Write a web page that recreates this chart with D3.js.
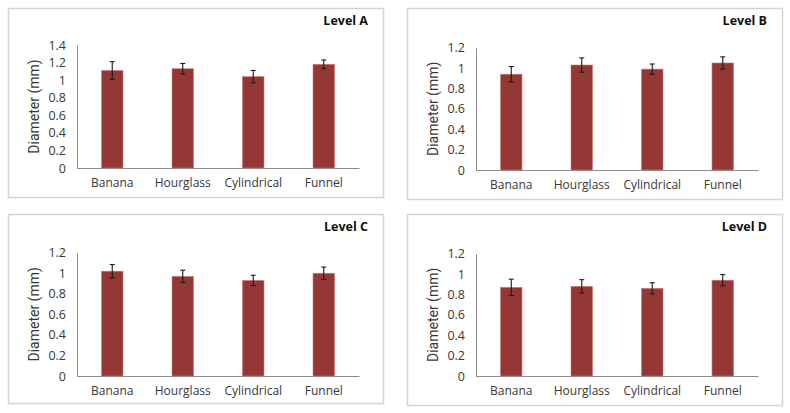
<!DOCTYPE html>
<html>
<head>
<meta charset="utf-8">
<script src="https://cdn.jsdelivr.net/npm/d3@7"></script>
<style>
  html, body { margin: 0; padding: 0; background: #ffffff; }
  svg { display: block; }
</style>
</head>
<body>
<svg id="chart" width="790" height="413"></svg>
<script>
// ---- Data ----
const categories = ["Banana", "Hourglass", "Cylindrical", "Funnel"];
const levels = ["Level A", "Level B", "Level C", "Level D"];
const meanA = [1.11, 1.13, 1.04, 1.18];
const errA  = [0.10, 0.06, 0.07, 0.05];
const meanB = [0.94, 1.03, 0.99, 1.05];
const errB  = [0.075, 0.07, 0.05, 0.06];
const meanC = [1.02, 0.97, 0.93, 1.00];
const errC  = [0.065, 0.06, 0.05, 0.06];
const meanD = [0.87, 0.88, 0.86, 0.94];
const errD  = [0.08, 0.065, 0.055, 0.055];
const ticksA = [0, 0.2, 0.4, 0.6, 0.8, 1, 1.2, 1.4];
const ticksBCD = [0, 0.2, 0.4, 0.6, 0.8, 1, 1.2];
const yTitle = "Diameter (mm)";

const panels = [
  { title: levels[0], means: meanA, errs: errA, ticks: ticksA,   fx: 8,   fy: 8,   fw: 375, fh: 189, top: 37,  base: 160 },
  { title: levels[1], means: meanB, errs: errB, ticks: ticksBCD, fx: 407, fy: 8,   fw: 375, fh: 191, top: 39.7, base: 162 },
  { title: levels[2], means: meanC, errs: errC, ticks: ticksBCD, fx: 8,   fy: 214, fw: 375, fh: 189, top: 38.7, base: 162 },
  { title: levels[3], means: meanD, errs: errD, ticks: ticksBCD, fx: 407, fy: 214, fw: 375, fh: 191, top: 39.7, base: 162 }
];

const svg = d3.select("#chart");
const barColor = "#953735";
const axisColor = "#8c8c8c";
const textColor = "#383838";
const fontFam = "'Open Sans', 'DejaVu Sans', sans-serif";

panels.forEach(p => {
  const g = svg.append("g").attr("transform", `translate(${p.fx},${p.fy})`);

  // frame
  g.append("rect")
    .attr("x", 0.5).attr("y", 0.5)
    .attr("width", p.fw).attr("height", p.fh)
    .attr("fill", "#ffffff")
    .attr("stroke", "#d4d4d4")
    .attr("stroke-width", 1.5);

  const x0 = 69, x1 = 351;
  const x = d3.scaleBand().domain(categories).range([x0, x1]).padding(0);
  const yMax = p.ticks[p.ticks.length - 1];
  const y = d3.scaleLinear().domain([0, yMax]).range([p.base, p.top]);

  // y axis
  const yAxis = d3.axisLeft(y).tickValues(p.ticks).tickSize(0).tickPadding(11)
    .tickFormat(d => d3.format("")(d));
  const ya = g.append("g").attr("transform", `translate(${x0},0)`).call(yAxis);
  ya.select(".domain").attr("stroke", axisColor).attr("stroke-width", 1);
  ya.selectAll("text")
    .attr("fill", textColor)
    .style("font-family", fontFam)
    .style("font-size", "12.5px");

  // x axis
  const xAxis = d3.axisBottom(x).tickSize(0).tickPadding(10);
  const xa = g.append("g").attr("transform", `translate(0,${p.base})`).call(xAxis);
  xa.select(".domain").attr("stroke", axisColor).attr("stroke-width", 1);
  xa.selectAll("text")
    .attr("fill", textColor)
    .style("font-family", fontFam)
    .style("font-size", "12px");

  // bars
  const bw = x.bandwidth() * 0.305;
  const data = categories.map((c, i) => ({ c, v: p.means[i], e: p.errs[i] }));
  g.selectAll("rect.bar").data(data).enter().append("rect")
    .attr("class", "bar")
    .attr("x", d => x(d.c) + x.bandwidth() / 2 - bw / 2)
    .attr("y", d => y(d.v))
    .attr("width", bw)
    .attr("height", d => y(0) - y(d.v))
    .attr("fill", barColor)
    .attr("stroke", "#c9807e")
    .attr("stroke-width", 0.6);

  // error bars
  const cap = 2.5;
  const eb = g.selectAll("g.err").data(data).enter().append("g").attr("class", "err");
  eb.append("line")
    .attr("x1", d => x(d.c) + x.bandwidth() / 2)
    .attr("x2", d => x(d.c) + x.bandwidth() / 2)
    .attr("y1", d => y(d.v + d.e))
    .attr("y2", d => y(d.v - d.e));
  eb.append("line")
    .attr("x1", d => x(d.c) + x.bandwidth() / 2 - cap)
    .attr("x2", d => x(d.c) + x.bandwidth() / 2 + cap)
    .attr("y1", d => y(d.v + d.e))
    .attr("y2", d => y(d.v + d.e));
  eb.append("line")
    .attr("x1", d => x(d.c) + x.bandwidth() / 2 - cap)
    .attr("x2", d => x(d.c) + x.bandwidth() / 2 + cap)
    .attr("y1", d => y(d.v - d.e))
    .attr("y2", d => y(d.v - d.e));
  eb.selectAll("line").attr("stroke", "#1a1a1a").attr("stroke-width", 1.1);

  // y title
  g.append("text")
    .attr("transform", `translate(31,${(p.top + p.base) / 2}) rotate(-90)`)
    .attr("text-anchor", "middle")
    .attr("fill", textColor)
    .style("font-family", "'Liberation Sans Narrow', 'Roboto', sans-serif")
    .style("font-size", "14px")
    .text(yTitle);

  // title
  g.append("text")
    .attr("x", p.fw - 15)
    .attr("y", 17)
    .attr("text-anchor", "end")
    .attr("fill", "#111111")
    .style("font-family", "'Open Sans', 'DejaVu Sans', sans-serif")
    .style("font-weight", "bold")
    .style("font-size", "12.5px")
    .text(p.title);
});
</script>
</body>
</html>
